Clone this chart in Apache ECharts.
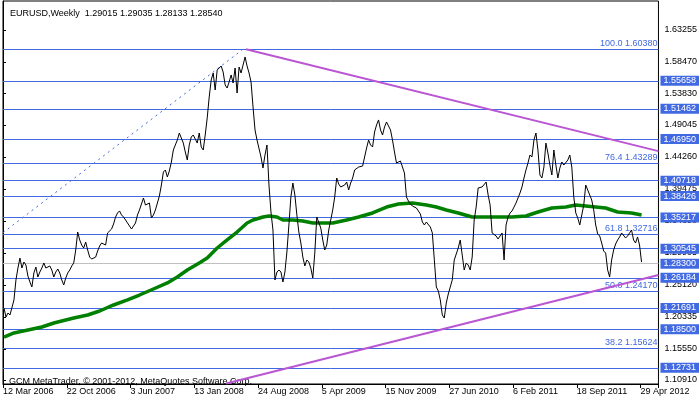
<!DOCTYPE html>
<html><head><meta charset="utf-8">
<script src="https://cdn.jsdelivr.net/npm/echarts@6/dist/echarts.min.js"></script>
<style>html,body{margin:0;padding:0;background:#fff}#c{width:700px;height:402px}</style>
</head><body><div id="c"></div>
<script>
const titleText = 'EURUSD,Weekly  1.29015 1.29035 1.28133 1.28540';
const copyrightText = 'GCM MetaTrader, \u00a9 2001-2012, MetaQuotes Software Corp.';
const dateLabels = ['12 Mar 2006','22 Oct 2006','3 Jun 2007','13 Jan 2008','24 Aug 2008','5 Apr 2009','15 Nov 2009','27 Jun 2010','6 Feb 2011','18 Sep 2011','29 Apr 2012'];
const closes = [
1.2168,1.2033,1.2093,1.2063,1.2078,1.2288,1.2587,1.2766,1.2915,1.2766,
1.2856,1.2811,1.2646,1.2557,1.2482,1.2691,1.2781,1.2631,1.2706,1.2766,
1.2841,1.2766,1.2766,1.2796,1.2736,1.2631,1.2706,1.2751,1.2691,1.2587,
1.2512,1.2616,1.2691,1.2736,1.2796,1.2841,1.3035,1.3304,1.3185,1.3110,
1.3065,1.3155,1.3035,1.2930,1.2900,1.2915,1.2930,1.3020,1.3095,1.3140,
1.3125,1.3110,1.3290,1.3319,1.3349,1.3424,1.3529,1.3589,1.3619,1.3559,
1.3529,1.3484,1.3439,1.3394,1.3349,1.3394,1.3439,1.3559,1.3634,1.3723,
1.3813,1.3708,1.3693,1.3738,1.3514,1.3559,1.3634,1.3738,1.3843,1.4007,
1.4202,1.4232,1.4127,1.4217,1.4351,1.4531,1.4606,1.4680,1.4785,1.4770,
1.4635,1.4501,1.4381,1.4606,1.4725,1.4755,1.4695,1.4635,1.4785,1.4576,
1.4531,1.4755,1.5010,1.5324,1.5578,1.5682,1.5428,1.5727,1.5757,1.5787,
1.5697,1.5503,1.5458,1.5548,1.5653,1.5533,1.5757,1.5383,1.5772,1.5682,
1.5802,1.5922,1.5787,1.5682,1.5548,1.5174,1.4830,1.4680,1.4680,1.4426,
1.4261,1.4456,1.4606,1.4007,1.3604,1.3334,1.2587,1.2706,1.2736,1.2706,
1.2557,1.2706,1.3005,1.3409,1.3828,1.4037,1.3858,1.3559,1.3304,1.3140,
1.2930,1.2796,1.2886,1.2856,1.2766,1.2616,1.2990,1.3529,1.3514,1.3364,
1.3185,1.3035,1.3110,1.3334,1.3484,1.3634,1.3828,1.4112,1.4022,1.3978,
1.3992,1.4007,1.4052,1.3933,1.4037,1.4112,1.4232,1.4247,1.4276,1.4276,
1.4291,1.4306,1.4561,1.4680,1.4606,1.4576,1.4800,1.4905,1.4980,1.4830,
1.4755,1.4875,1.4950,1.4950,1.4830,1.4680,1.4501,1.4336,1.4351,1.4366,
1.4381,1.4187,1.3828,1.3768,1.3723,1.3693,1.3678,1.3663,1.3648,1.3574,
1.3454,1.3409,1.3454,1.3439,1.3379,1.3290,1.2886,1.2482,1.2422,1.2288,
1.2063,1.2018,1.2243,1.2377,1.2482,1.2587,1.2886,1.2975,1.3065,1.3185,
1.2960,1.2736,1.2841,1.2811,1.2736,1.2930,1.3484,1.3678,1.3963,1.3978,
1.3978,1.4007,1.4052,1.3858,1.3708,1.3290,1.3304,1.3245,1.3200,1.3245,
1.3290,1.2886,1.3409,1.3529,1.3589,1.3619,1.3678,1.3738,1.3813,1.3888,
1.3978,1.4112,1.4232,1.4336,1.4456,1.4426,1.4680,1.4785,1.4531,1.4157,
1.4112,1.4276,1.4635,1.4486,1.4306,1.4157,1.4531,1.4306,1.4112,1.4261,
1.4351,1.4306,1.4306,1.4381,1.4456,1.4276,1.3828,1.3589,1.3514,1.3409,
1.3409,1.3708,1.4007,1.4007,1.3858,1.3783,1.3634,1.3409,1.3275,1.3245,
1.3140,1.3020,1.2990,1.2736,1.2631,1.2886,1.3035,1.3125,1.3185,1.3230,
1.3290,1.3304,1.3215,1.3245,1.3290,1.3334,1.3185,1.3140,1.3230,1.3110,1.2854
];
const maWeek  = [0,5,12,19,25,35,42,48,55,62,68,75,82,87,92,98,102,107,112,117,122,125,130,133,137,140,145,150,155,160,165,172,178,185,192,198,205,212,217,222,228,235,242,248,255,262,268,275,282,287,292,297,302,308,315,320];
const maValue = [1.1734,1.1794,1.1839,1.1884,1.1943,1.2018,1.2063,1.2123,1.2213,1.2288,1.2362,1.2452,1.2542,1.2631,1.2736,1.2841,1.2915,1.3065,1.3185,1.3304,1.3439,1.3484,1.3529,1.3544,1.3529,1.3484,1.3484,1.3469,1.3439,1.3439,1.3439,1.3484,1.3529,1.3589,1.3678,1.3723,1.3738,1.3708,1.3678,1.3634,1.3589,1.3529,1.3529,1.3529,1.3529,1.3544,1.3604,1.3663,1.3678,1.3708,1.3693,1.3678,1.3663,1.3604,1.3589,1.3559];
const yTicks = [1.63255,1.58470,1.53830,1.49045,1.44260,1.39475,1.34690,1.29905,1.25120,1.20335,1.15550,1.10910];
const levelValues = [1.55658,1.51462,1.46950,1.40718,1.38426,1.35217,1.30545,1.26184,1.21691,1.18500,1.12731];
const grayLevel = 1.28300;
const fibNames = ['100.0','76.4','61.8','50.0','38.2'];
const fibValues = [1.60380,1.43289,1.32716,1.24170,1.15624];
const lastClose = 1.28540;
const upperTrendWeek = [122,329], upperTrendValue = [1.6038,1.4514];
const lowerTrendWeek = [112,329], lowerTrendValue = [1.1039,1.2661];
const fibLineWeek = [0,120.5], fibLineValue = [1.3294,1.6038];

const font = "'Liberation Sans', Arial, sans-serif";
const blue = '#4169E1';
const magenta = '#BA55D3';
const chart = echarts.init(document.getElementById('c'));
const pairs = (xs, ys, off) => xs.map((x, i) => [x + off, ys[i]]);
const ts = {fontFamily: font, fontSize: 9, fontWeight: 'normal', color: '#000'};
const boxLabel = bg => ({show: true, position: 'end', distance: 2, backgroundColor: bg, color: '#fff',
  padding: [1,3,0,3], lineHeight: 9, fontFamily: font, fontSize: 9, formatter: p => p.name});
const lvl = v => ({yAxis: v, name: v.toFixed(5)});

chart.setOption({
  animation: false,
  backgroundColor: '#fff',
  title: [
    {text: titleText, left: 5, top: 4, textStyle: ts},
    {text: copyrightText, left: 4, top: 372, textStyle: ts}
  ],
  grid: {left: 2, top: 1, right: 40, bottom: 18, show: true, borderColor: '#000', borderWidth: 1},
  xAxis: {
    type: 'value', min: 0, max: 329, interval: 32,
    axisLine: {show: true, lineStyle: {color: '#000'}},
    axisTick: {show: true, length: 4, lineStyle: {color: '#000'}},
    splitLine: {show: false},
    axisLabel: {align: 'left', margin: 3, fontFamily: font, fontSize: 9, color: '#000',
      formatter: v => (v % 32 === 0 ? dateLabels[v / 32] : '')}
  },
  yAxis: {
    type: 'value', position: 'right', min: 1.10312, max: 1.67592, scale: true,
    axisLine: {show: true, lineStyle: {color: '#000'}},
    axisTick: {show: true, length: 3, customValues: yTicks, lineStyle: {color: '#000'}},
    splitLine: {show: false},
    axisLabel: {customValues: yTicks, margin: 6, fontFamily: font, fontSize: 9, color: '#000',
      formatter: v => v.toFixed(5)}
  },
  series: [
    {type: 'line', data: [], z: 1, markLine: {silent: true, precision: 5, symbol: ['none','none'], animation: false,
      lineStyle: {opacity: 0}, label: boxLabel('#000'),
      data: [lvl(lastClose)]}},
    {type: 'line', data: [], z: 2, markLine: {silent: true, precision: 5, symbol: ['none','none'], animation: false,
      lineStyle: {color: blue, width: 1, type: 'solid'}, label: boxLabel(blue),
      data: levelValues.map(lvl)}},
    {type: 'line', data: [], z: 2, markLine: {silent: true, precision: 5, symbol: ['none','none'], animation: false,
      lineStyle: {color: blue, width: 1, type: 'solid'},
      label: {show: true, position: 'insideEndTop', distance: [1, 1], color: blue,
        fontFamily: font, fontSize: 9, formatter: p => p.name},
      data: fibValues.map((v, i) => ({yAxis: v, name: fibNames[i] + ' ' + v.toFixed(5)}))}},
    {type: 'line', data: [], z: 3, markLine: {silent: true, precision: 5, symbol: ['none','none'], animation: false,
      lineStyle: {color: '#C0C0C0', width: 1, type: 'solid'}, label: boxLabel(blue),
      data: [lvl(grayLevel)]}},
    {type: 'line', z: 4, data: pairs(fibLineWeek, fibLineValue, 0), symbol: 'none',
      lineStyle: {color: blue, width: 1, type: [2, 4]}},
    {type: 'line', z: 5, data: pairs(maWeek, maValue, 0.5), symbol: 'none',
      lineStyle: {color: '#008000', width: 3.5}},
    {type: 'line', z: 6, data: pairs(upperTrendWeek, upperTrendValue, 0), symbol: 'none',
      lineStyle: {color: magenta, width: 2}},
    {type: 'line', z: 6, data: pairs(lowerTrendWeek, lowerTrendValue, 0), symbol: 'none',
      lineStyle: {color: magenta, width: 2}},
    {type: 'line', z: 7, data: closes.map((v, i) => [i + 0.5, v]), symbol: 'none',
      lineStyle: {color: '#000', width: 1}}
  ]
});
</script></body></html>
